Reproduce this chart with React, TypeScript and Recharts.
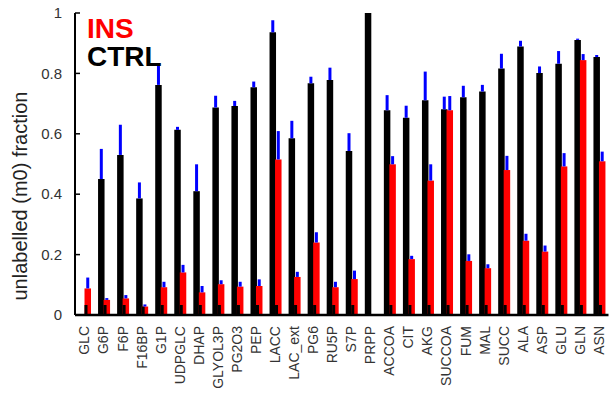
import { BarChart, Bar, XAxis, YAxis, ErrorBar, Label } from 'recharts';

const metabolites = [
  'GLC', 'G6P', 'F6P', 'F16BP', 'G1P', 'UDPGLC', 'DHAP', 'GLYOL3P', 'PG2O3', 'PEP',
  'LACC', 'LAC_ext', 'PG6', 'RU5P', 'S7P', 'PRPP', 'ACCOA', 'CIT', 'AKG', 'SUCCOA',
  'FUM', 'MAL', 'SUCC', 'ALA', 'ASP', 'GLU', 'GLN', 'ASN',
];

// CTRL fraction and upper error
const ctrl = [
  0, 0.45, 0.53, 0.386, 0.762, 0.613, 0.41, 0.687, 0.692, 0.754,
  0.936, 0.585, 0.767, 0.778, 0.543, 1.0, 0.678, 0.653, 0.711, 0.681,
  0.721, 0.74, 0.816, 0.889, 0.801, 0.832, 0.911, 0.854,
];
const ctrlErr = [
  0, 0.1, 0.1, 0.053, 0.064, 0.01, 0.089, 0.039, 0.017, 0.019,
  0.04, 0.058, 0.022, 0.041, 0.059, 0, 0.05, 0.04, 0.095, 0.042,
  0.038, 0.022, 0.049, 0.019, 0.022, 0.042, 0.004, 0.007,
];

// INS fraction and upper error
const ins = [
  0.088, 0.05, 0.055, 0.028, 0.092, 0.141, 0.075, 0.102, 0.094, 0.096,
  0.515, 0.126, 0.24, 0.092, 0.119, 0, 0.499, 0.185, 0.445, 0.678,
  0.179, 0.155, 0.48, 0.246, 0.21, 0.492, 0.844, 0.509,
];
const insErr = [
  0.036, 0.006, 0.011, 0.007, 0.018, 0.025, 0.021, 0.013, 0.016, 0.022,
  0.094, 0.017, 0.034, 0.018, 0.028, 0, 0.027, 0.011, 0.054, 0.047,
  0.022, 0.013, 0.047, 0.023, 0.02, 0.044, 0.02, 0.032,
];

const yTicks = [0, 0.2, 0.4, 0.6, 0.8, 1];

const data = metabolites.map((name, i) => ({
  name,
  ctrl: ctrl[i],
  ctrlErr: [0, ctrlErr[i]],
  ins: ins[i],
  insErr: [0, insErr[i]],
}));

const FONT = 'Liberation Sans, Arial, sans-serif';

const XTick = ({ x, y, payload }: any) => (
  <g transform={`translate(${x},${y + 11})`}>
    <text
      transform="rotate(-90)"
      textAnchor="end"
      dy="0.35em"
      fontSize={14}
      fontFamily={FONT}
      fill="#333"
    >
      {payload.value}
    </text>
  </g>
);

const YTick = ({ x, y, payload }: any) => (
  <g>
    <line x1={x} x2={x + 5} y1={y} y2={y} stroke="#000" strokeWidth={1.5} />
    <text
      x={x - 13}
      y={y}
      dy="0.35em"
      textAnchor="end"
      fontSize={15}
      fontFamily={FONT}
      fill="#333"
    >
      {payload.value}
    </text>
  </g>
);

// red bar with the small black mark at its lower left
const InsShape = (props: any) => {
  const { x, y, width, height } = props;
  if (!height || height <= 0) return null;
  const notch = Math.min(10, height);
  return (
    <g>
      <rect x={x} y={y} width={width} height={height} fill="#ff0000" />
      <rect x={x} y={y + height - notch} width={3} height={notch} fill="#000" />
    </g>
  );
};

export default function App() {
  return (
    <div style={{ position: 'absolute', left: 0, top: 0, width: 610, height: 394 }}>
      <BarChart
        width={610}
        height={394}
        data={data}
        margin={{ top: 13, right: 1.5, left: 0, bottom: 0 }}
        barSize={6.5}
        barGap={-1}
      >
        <XAxis
          dataKey="name"
          interval={0}
          height={79}
          tickLine={false}
          tickSize={0}
          tickMargin={0}
          axisLine={{ stroke: '#000', strokeWidth: 2.5 }}
          tick={<XTick />}
        />
        <YAxis
          width={75}
          domain={[0, 1]}
          ticks={yTicks}
          tickLine={false}
          tickSize={0}
          tickMargin={0}
          axisLine={{ stroke: '#000', strokeWidth: 2 }}
          tick={<YTick />}
        >
          <Label
            content={() => (
              <text
                transform="translate(27,196) rotate(-90)"
                textAnchor="middle"
                fontSize={20}
                fontFamily={FONT}
                fill="#222"
              >
                unlabelled (m0) fraction
              </text>
            )}
          />
        </YAxis>
        <Bar dataKey="ctrl" fill="#000" isAnimationActive={false}>
          <ErrorBar dataKey="ctrlErr" width={0} stroke="#0000ff" strokeWidth={3} />
        </Bar>
        <Bar dataKey="ins" fill="#ff0000" shape={<InsShape />} isAnimationActive={false}>
          <ErrorBar dataKey="insErr" width={0} stroke="#0000ff" strokeWidth={3} />
        </Bar>
      </BarChart>
      <div
        style={{
          position: 'absolute',
          left: 87,
          top: 15,
          fontFamily: FONT,
          fontWeight: 'bold',
          fontSize: 28,
          lineHeight: '28px',
        }}
      >
        <div style={{ color: '#ff0000' }}>INS</div>
        <div style={{ color: '#000' }}>CTRL</div>
      </div>
    </div>
  );
}
